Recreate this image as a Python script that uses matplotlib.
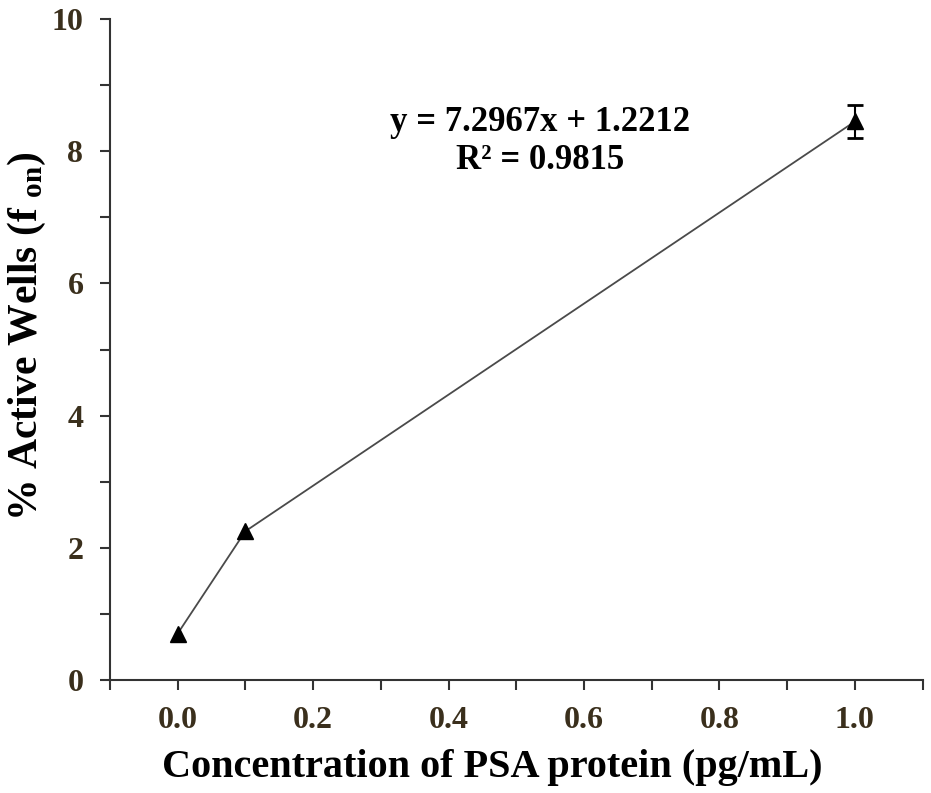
import matplotlib
matplotlib.use("Agg")
import matplotlib.pyplot as plt
from matplotlib.ticker import MultipleLocator

plt.rcParams['font.family'] = ['Liberation Serif', 'DejaVu Serif']
plt.rcParams['font.weight'] = 'bold'
plt.rcParams['mathtext.fontset'] = 'custom'
plt.rcParams['mathtext.rm'] = 'Liberation Serif:bold'
plt.rcParams['mathtext.it'] = 'Liberation Serif:bold'
plt.rcParams['mathtext.bf'] = 'Liberation Serif:bold'

# PSA concentration (pg/mL) vs. fraction of active wells
concentration = [0.0, 0.1, 1.0]
active_wells = [0.70, 2.25, 8.45]
errors = [0.05, 0.05, 0.25]

fit_text = "y = 7.2967x + 1.2212\nR\u00b2 = 0.9815"
tick_color = '#3a2f1c'

fig = plt.figure(figsize=(9.31, 7.93), dpi=100)
ax = fig.add_axes([0.118, 0.1425, 0.873, 0.8335])

# connecting line with markers
ax.plot(concentration, active_wells, color='#4a4a4a', lw=1.3, marker='^', markersize=12,
        markerfacecolor='black', markeredgecolor='black', zorder=3)
# error bars: small ones without caps, the large one with caps
ax.errorbar(concentration[:2], active_wells[:2], yerr=errors[:2], fmt='none',
            ecolor='black', elinewidth=1.5, capsize=0, zorder=2)
ax.errorbar(concentration[2:], active_wells[2:], yerr=errors[2:], fmt='none',
            ecolor='black', elinewidth=1.5, capsize=6, capthick=2, zorder=2)

ax.set_xlim(-0.1, 1.1)
ax.set_ylim(0, 10)
ax.xaxis.set_minor_locator(MultipleLocator(0.1))
ax.yaxis.set_minor_locator(MultipleLocator(1))
ax.set_xticks([0.0, 0.2, 0.4, 0.6, 0.8, 1.0])
ax.set_xticklabels(['0.0', '0.2', '0.4', '0.6', '0.8', '1.0'])
ax.set_yticks([0, 2, 4, 6, 8, 10])

for s in ['top', 'right']:
    ax.spines[s].set_visible(False)
for s in ['left', 'bottom']:
    ax.spines[s].set_linewidth(1.5)
    ax.spines[s].set_color('#333333')

ax.tick_params(which='both', direction='out', width=1.5, color='#333333')
ax.tick_params(which='major', length=7, labelsize=23, labelcolor=tick_color, pad=12)
ax.tick_params(which='minor', length=7)

ax.set_xlabel('Concentration of PSA protein (pg/mL)', fontsize=29, fontweight='bold')
ax.xaxis.set_label_coords(0.47, -0.105)
ax.set_ylabel('% Active Wells (f $_{on}$)', fontsize=30, fontweight='bold')
ax.yaxis.set_label_coords(-0.076, 0.52)

ax.text(0.535, 8.15, fit_text, fontsize=25, fontweight='bold', ha='center', va='center',
        linespacing=1.2)

fig.savefig('out.png', dpi=100)
